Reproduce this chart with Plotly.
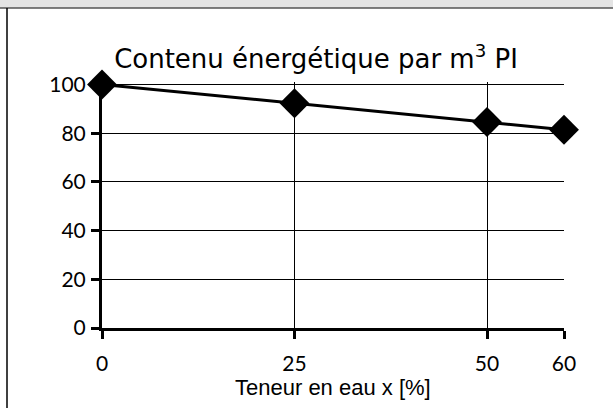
import plotly.graph_objs as go

# ---------- data ----------
water_content = [0, 25, 50, 60]          # Teneur en eau x [%]
energy_content = [100, 92.3, 84.6, 81.4]  # relative energy content per m3 PI
x_ticks = [0, 25, 50, 60]
y_ticks = [0, 20, 40, 60, 80, 100]

W, H = 613, 408
L, R, T, B = 102, 49, 82, 80
plot_w, plot_h = W - L - R, H - T - B

fig = go.Figure()
fig.add_trace(
    go.Scatter(
        x=water_content,
        y=energy_content,
        mode="lines+markers",
        line=dict(color="black", width=3),
        marker=dict(symbol="diamond", size=23, color="black"),
        cliponaxis=False,
        showlegend=False,
    )
)

axis_common = dict(
    showline=True,
    linecolor="black",
    linewidth=3,
    showgrid=True,
    gridcolor="black",
    gridwidth=1,
    zeroline=False,
    ticks="outside",
    ticklen=8,
    tickwidth=3,
    tickcolor="black",
    tickfont=dict(family="Lato, Open Sans, sans-serif", size=21, color="black"),
)

fig.update_xaxes(
    range=[0, 60],
    tickvals=x_ticks,
    ticktext=[str(v) for v in x_ticks],
    ticklabelstandoff=7,
    **axis_common,
)
fig.update_yaxes(
    range=[0, 101],
    tickvals=y_ticks,
    ticklabelstandoff=1,
    **axis_common,
)

# x axis title
fig.add_annotation(
    text="Teneur en eau x [%]",
    xref="paper", yref="paper",
    x=0.5, y=-(387 - (H - B)) / plot_h,
    xanchor="center", yanchor="middle",
    showarrow=False,
    font=dict(family="Liberation Sans, Arial, sans-serif", size=22, color="black"),
)

# top grey bar and left frame edge of the original chart window
fig.add_shape(type="rect", xref="paper", yref="paper",
              x0=(0 - L) / plot_w, x1=(W - L) / plot_w,
              y0=1 + (T - 8) / plot_h, y1=1 + T / plot_h,
              fillcolor="#e4e4e4", line=dict(width=0), layer="above")
fig.add_shape(type="line", xref="paper", yref="paper",
              x0=(0 - L) / plot_w, x1=(W - L) / plot_w,
              y0=1 + (T - 8) / plot_h, y1=1 + (T - 8) / plot_h,
              line=dict(color="#555555", width=1.5), layer="above")
fig.add_shape(type="line", xref="paper", yref="paper",
              x0=(7 - L) / plot_w, x1=(7 - L) / plot_w,
              y0=-B / plot_h, y1=1 + (T - 8) / plot_h,
              line=dict(color="black", width=1.5))

fig.update_layout(
    width=W,
    height=H,
    margin=dict(l=L, r=R, t=T, b=B),
    paper_bgcolor="white",
    plot_bgcolor="white",
    title=dict(
        text="Contenu énergétique par m<sup>3</sup> PI",
        x=316 / W,
        xanchor="center",
        y=1 - 59 / H,
        yanchor="middle",
        font=dict(family="DejaVu Sans, Verdana, sans-serif", size=26, color="black"),
    ),
)

fig.write_html("out.html", config={"displayModeBar": False},
               post_script="document.body.style.margin='0';")
